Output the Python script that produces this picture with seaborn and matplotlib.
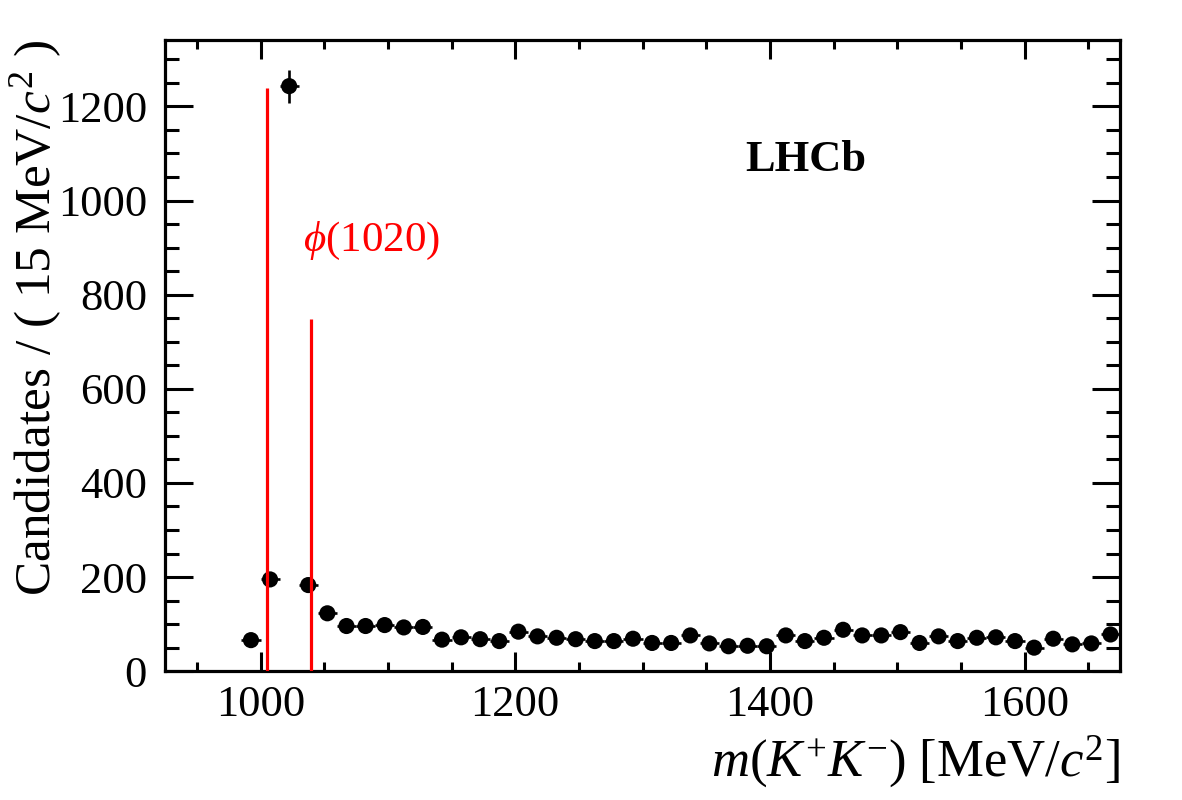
import numpy as np
import pandas as pd
import matplotlib
matplotlib.use("Agg")
import matplotlib.pyplot as plt
import seaborn as sns
from matplotlib.ticker import MultipleLocator

# m(K+K-) bin centres [MeV/c^2], 15 MeV bins
mass = [992.5, 1007.5, 1022.5, 1037.5, 1052.5, 1067.5, 1082.5, 1097.5, 1112.5, 1127.5,
        1142.5, 1157.5, 1172.5, 1187.5, 1202.5, 1217.5, 1232.5, 1247.5, 1262.5, 1277.5,
        1292.5, 1307.5, 1322.5, 1337.5, 1352.5, 1367.5, 1382.5, 1397.5, 1412.5, 1427.5,
        1442.5, 1457.5, 1472.5, 1487.5, 1502.5, 1517.5, 1532.5, 1547.5, 1562.5, 1577.5,
        1592.5, 1607.5, 1622.5, 1637.5, 1652.5, 1667.5]
counts = [66, 195, 1243, 183, 123, 96, 96, 98, 93, 94,
          67, 72, 68, 64, 84, 74, 71, 68, 64, 64,
          69, 60, 60, 76, 59, 53, 54, 53, 76, 64,
          71, 88, 76, 76, 83, 60, 74, 64, 71, 72,
          64, 50, 69, 57, 59, 78]
bin_width = 15

# signal window lines
window_x = [1005, 1040]
window_top = [1240, 748]

df = pd.DataFrame({"mass": mass, "counts": counts})
df["err"] = np.sqrt(df["counts"])

sns.set_theme(style="ticks")
plt.rcParams["font.family"] = ["Liberation Serif", "DejaVu Serif"]
plt.rcParams["mathtext.fontset"] = "custom"
plt.rcParams["mathtext.rm"] = "Liberation Serif"
plt.rcParams["mathtext.it"] = "Liberation Serif:italic"
plt.rcParams["mathtext.bf"] = "Liberation Serif:bold"
for key in ["text.color", "axes.labelcolor", "xtick.color", "ytick.color", "axes.edgecolor"]:
    plt.rcParams[key] = "black"

fig = plt.figure(figsize=(11.82, 8), dpi=100)
ax = fig.add_axes([0.1396, 0.161, 0.808, 0.789])

ax.errorbar(df["mass"], df["counts"], yerr=df["err"], xerr=bin_width / 2,
            fmt="none", ecolor="black", elinewidth=1.9, capsize=0, zorder=2)
sns.scatterplot(data=df, x="mass", y="counts", ax=ax, color="black",
                s=135, edgecolor="none", zorder=3, legend=False)

ax.vlines(window_x, 0, window_top, colors="#ff0000", linewidth=2.3, zorder=4)

ax.text(1087, 915, r"$\phi$(1020)", color="#ff0000", fontsize=31,
        ha="center", va="center")
ax.text(1428, 1087, "LHCb", fontsize=32, fontweight="bold",
        ha="center", va="center")

ax.set_xlim(925, 1675)
ax.set_ylim(0, 1341)
ax.xaxis.set_major_locator(MultipleLocator(200))
ax.xaxis.set_minor_locator(MultipleLocator(50))
ax.yaxis.set_major_locator(MultipleLocator(200))
ax.yaxis.set_minor_locator(MultipleLocator(50))

for side in ax.spines.values():
    side.set_linewidth(2.3)
    side.set_color("black")

ax.tick_params(axis="both", which="both", direction="in", top=True, right=True,
               width=2.2, color="black", labelsize=32)
ax.tick_params(axis="x", which="major", length=13.7, pad=10)
ax.tick_params(axis="x", which="minor", length=6.8)
ax.tick_params(axis="y", which="major", length=20, pad=13)
ax.tick_params(axis="y", which="minor", length=10)

ax.set_xlabel(r"$m(K^{+}K^{-})$ [MeV/$c^{2}$]", fontsize=38, loc="right", labelpad=6)
ax.set_ylabel(r"Candidates / ( 15 MeV/$c^{2}$ )", fontsize=37, loc="top")
ax.yaxis.set_label_coords(-0.106, 1.0)
ax.grid(False)

fig.savefig("out.png", dpi=100)
